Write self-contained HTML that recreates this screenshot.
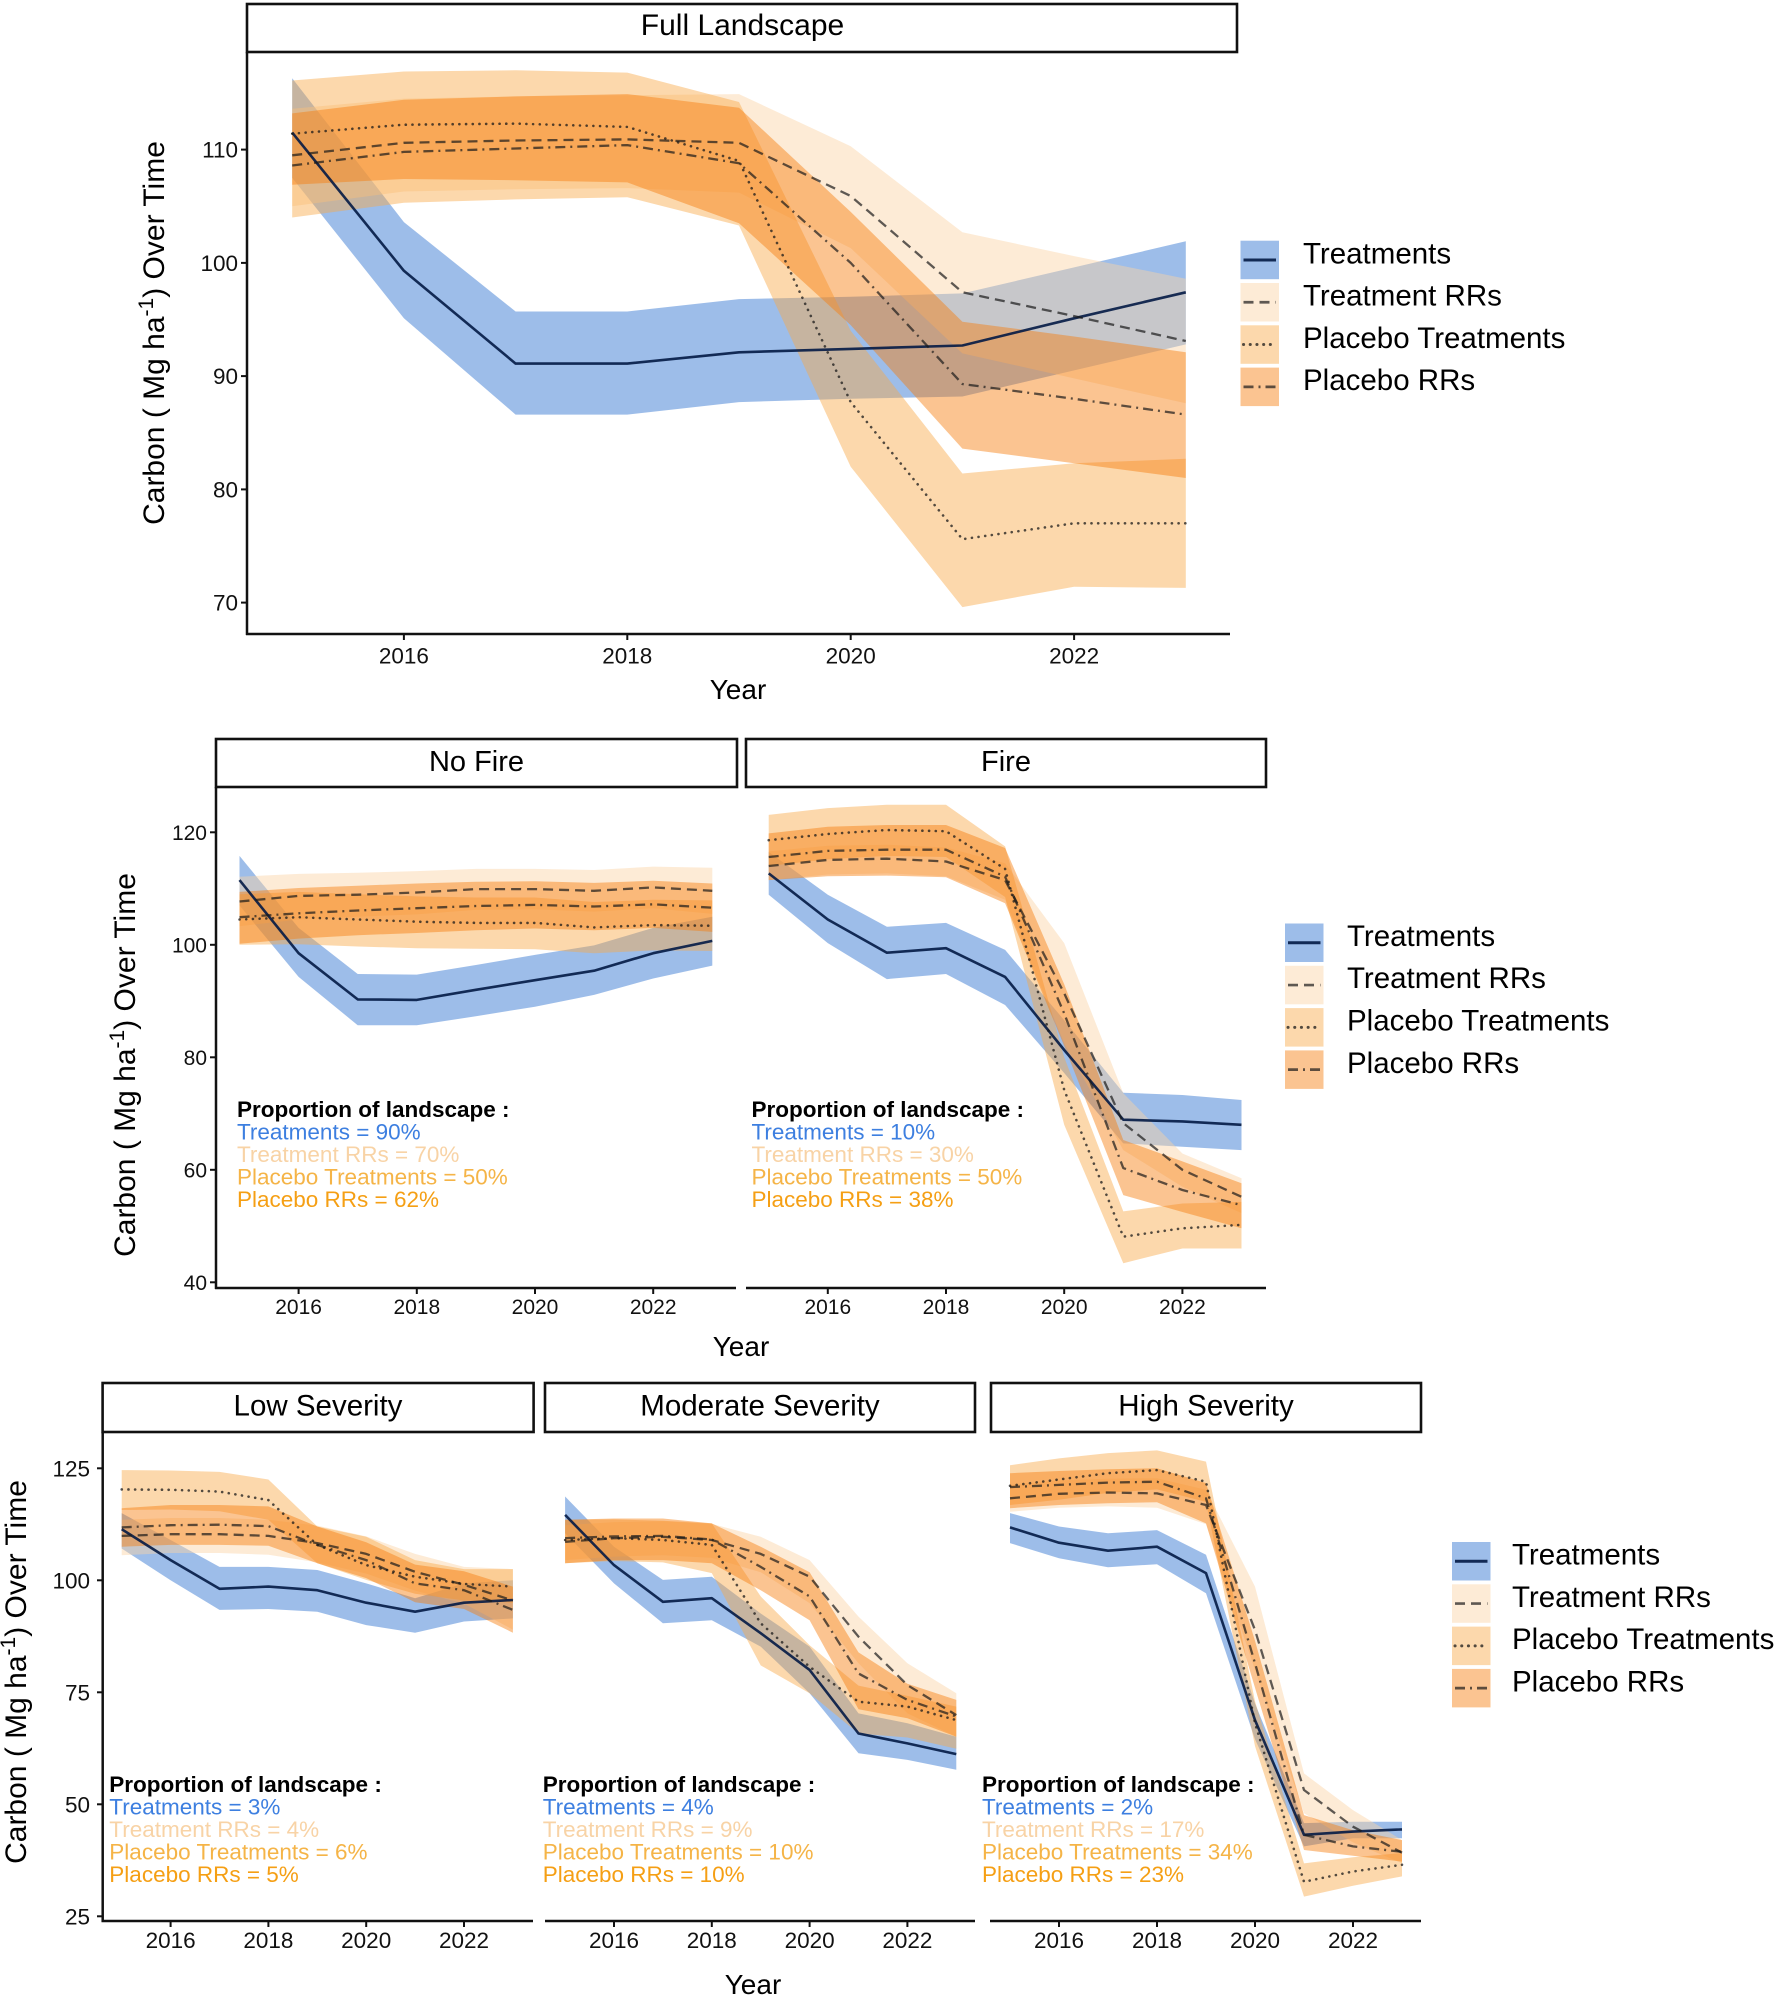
<!DOCTYPE html>
<html>
<head>
<meta charset="utf-8">
<style>
html,body{margin:0;padding:0;background:#fff;}
svg{display:block;font-family:"Liberation Sans",Arial,sans-serif;}
.tk{font-size:22.5px;fill:#111;}
.tk2{font-size:21px;fill:#111;}
.ax{stroke:#111;stroke-width:2.5;fill:none;}
.tm{stroke:#111;stroke-width:2;}
.strip{fill:#fff;stroke:#111;stroke-width:2.6;}
.st{font-size:29.5px;fill:#000;text-anchor:middle;}
.yr{font-size:28px;fill:#000;text-anchor:middle;}
.yt{font-size:30px;fill:#000;text-anchor:middle;}
.lg{font-size:29.5px;fill:#000;}
.an{font-size:22.5px;}
.anh{font-size:22.5px;font-weight:bold;fill:#000;}
.cT{fill:#3d7fe0;}
.cTR{fill:#f8d3a6;}
.cPT{fill:#f5b447;}
.cPR{fill:#f59f14;}
</style>
</head>
<body>
<svg id="s" width="1784" height="2000" viewBox="0 0 1784 2000" xmlns="http://www.w3.org/2000/svg">
<rect x="0" y="0" width="1784" height="2000" fill="#fff"/>
<g id="data"></g>

<!-- ================= PANEL 1 ================= -->
<rect class="strip" x="247" y="4" width="990" height="48"/>
<text class="st" x="742.5" y="35" style="font-size:30px">Full Landscape</text>
<line class="ax" x1="247" y1="52" x2="247" y2="635"/>
<line class="ax" x1="246" y1="634" x2="1230" y2="634"/>
<g class="tm">
<line x1="241" y1="149.6" x2="247" y2="149.6"/>
<line x1="241" y1="262.9" x2="247" y2="262.9"/>
<line x1="241" y1="376.1" x2="247" y2="376.1"/>
<line x1="241" y1="489.4" x2="247" y2="489.4"/>
<line x1="241" y1="602.6" x2="247" y2="602.6"/>
<line x1="403.9" y1="634" x2="403.9" y2="640"/>
<line x1="627.3" y1="634" x2="627.3" y2="640"/>
<line x1="850.7" y1="634" x2="850.7" y2="640"/>
<line x1="1074.1" y1="634" x2="1074.1" y2="640"/>
</g>
<g class="tk" text-anchor="end">
<text x="238" y="157.6">110</text>
<text x="238" y="270.9">100</text>
<text x="238" y="384.1">90</text>
<text x="238" y="497.4">80</text>
<text x="238" y="610.6">70</text>
</g>
<g class="tk" text-anchor="middle">
<text x="403.9" y="663.5">2016</text>
<text x="627.3" y="663.5">2018</text>
<text x="850.7" y="663.5">2020</text>
<text x="1074.1" y="663.5">2022</text>
</g>
<text class="yr" x="738" y="699">Year</text>
<text class="yt" transform="translate(164,333) rotate(-90)">Carbon ( Mg ha<tspan font-size="21" dy="-11">-1</tspan><tspan dy="11">) Over Time</tspan></text>

<!-- legend 1 -->
<g id="leg1"></g>
<text class="lg" x="1303" y="263.3">Treatments</text>
<text class="lg" x="1303" y="305.6">Treatment RRs</text>
<text class="lg" x="1303" y="347.9">Placebo Treatments</text>
<text class="lg" x="1303" y="390.2">Placebo RRs</text>

<!-- ================= PANEL 2 ================= -->
<rect class="strip" x="216" y="739" width="521" height="48"/>
<rect class="strip" x="746" y="739" width="520" height="48"/>
<text class="st" x="476.5" y="771" style="font-size:29px">No Fire</text>
<text class="st" x="1006" y="771" style="font-size:29px">Fire</text>
<line class="ax" x1="216" y1="787" x2="216" y2="1289"/>
<line class="ax" x1="215" y1="1288" x2="736" y2="1288"/>
<line class="ax" x1="746" y1="1288" x2="1266" y2="1288"/>
<g class="tm">
<line x1="210" y1="832.3" x2="216" y2="832.3"/>
<line x1="210" y1="944.8" x2="216" y2="944.8"/>
<line x1="210" y1="1057.3" x2="216" y2="1057.3"/>
<line x1="210" y1="1169.8" x2="216" y2="1169.8"/>
<line x1="210" y1="1282.3" x2="216" y2="1282.3"/>
<line x1="298.6" y1="1288" x2="298.6" y2="1294"/>
<line x1="416.8" y1="1288" x2="416.8" y2="1294"/>
<line x1="535" y1="1288" x2="535" y2="1294"/>
<line x1="653.2" y1="1288" x2="653.2" y2="1294"/>
<line x1="827.8" y1="1288" x2="827.8" y2="1294"/>
<line x1="946" y1="1288" x2="946" y2="1294"/>
<line x1="1064.2" y1="1288" x2="1064.2" y2="1294"/>
<line x1="1182.4" y1="1288" x2="1182.4" y2="1294"/>
</g>
<g class="tk2" text-anchor="end">
<text x="207" y="839.8">120</text>
<text x="207" y="952.3">100</text>
<text x="207" y="1064.8">80</text>
<text x="207" y="1177.3">60</text>
<text x="207" y="1289.8">40</text>
</g>
<g class="tk2" text-anchor="middle">
<text x="298.6" y="1314">2016</text>
<text x="416.8" y="1314">2018</text>
<text x="535" y="1314">2020</text>
<text x="653.2" y="1314">2022</text>
<text x="827.8" y="1314">2016</text>
<text x="946" y="1314">2018</text>
<text x="1064.2" y="1314">2020</text>
<text x="1182.4" y="1314">2022</text>
</g>
<text class="yr" x="741" y="1356">Year</text>
<text class="yt" transform="translate(135,1065) rotate(-90)">Carbon ( Mg ha<tspan font-size="21" dy="-11">-1</tspan><tspan dy="11">) Over Time</tspan></text>

<g id="leg2"></g>
<text class="lg" x="1347" y="945.9">Treatments</text>
<text class="lg" x="1347" y="988.2">Treatment RRs</text>
<text class="lg" x="1347" y="1030.5">Placebo Treatments</text>
<text class="lg" x="1347" y="1072.8">Placebo RRs</text>

<!-- annotations panel 2 -->
<text class="anh" x="237" y="1117">Proportion of landscape :</text>
<text class="an cT" x="237" y="1139.5">Treatments = 90%</text>
<text class="an cTR" x="237" y="1162">Treatment RRs = 70%</text>
<text class="an cPT" x="237" y="1184.5">Placebo Treatments = 50%</text>
<text class="an cPR" x="237" y="1207">Placebo RRs = 62%</text>

<text class="anh" x="751.5" y="1117">Proportion of landscape :</text>
<text class="an cT" x="751.5" y="1139.5">Treatments = 10%</text>
<text class="an cTR" x="751.5" y="1162">Treatment RRs = 30%</text>
<text class="an cPT" x="751.5" y="1184.5">Placebo Treatments = 50%</text>
<text class="an cPR" x="751.5" y="1207">Placebo RRs = 38%</text>

<!-- ================= PANEL 3 ================= -->
<rect class="strip" x="102.6" y="1383" width="431" height="49"/>
<rect class="strip" x="545" y="1383" width="430" height="49"/>
<rect class="strip" x="991" y="1383" width="430" height="49"/>
<text class="st" x="318" y="1415.5">Low Severity</text>
<text class="st" x="760" y="1415.5">Moderate Severity</text>
<text class="st" x="1206" y="1415.5">High Severity</text>
<line class="ax" x1="102.7" y1="1432" x2="102.7" y2="1922"/>
<line class="ax" x1="101.5" y1="1921" x2="533" y2="1921"/>
<line class="ax" x1="545" y1="1921" x2="975" y2="1921"/>
<line class="ax" x1="990" y1="1921" x2="1421" y2="1921"/>
<g class="tm">
<line x1="97" y1="1468.3" x2="103" y2="1468.3"/>
<line x1="97" y1="1580.3" x2="103" y2="1580.3"/>
<line x1="97" y1="1692.3" x2="103" y2="1692.3"/>
<line x1="97" y1="1804.3" x2="103" y2="1804.3"/>
<line x1="97" y1="1916.3" x2="103" y2="1916.3"/>
<line x1="170.6" y1="1921" x2="170.6" y2="1927"/>
<line x1="268.4" y1="1921" x2="268.4" y2="1927"/>
<line x1="366.2" y1="1921" x2="366.2" y2="1927"/>
<line x1="464" y1="1921" x2="464" y2="1927"/>
<line x1="614" y1="1921" x2="614" y2="1927"/>
<line x1="711.8" y1="1921" x2="711.8" y2="1927"/>
<line x1="809.6" y1="1921" x2="809.6" y2="1927"/>
<line x1="907.4" y1="1921" x2="907.4" y2="1927"/>
<line x1="1059" y1="1921" x2="1059" y2="1927"/>
<line x1="1157" y1="1921" x2="1157" y2="1927"/>
<line x1="1255" y1="1921" x2="1255" y2="1927"/>
<line x1="1353" y1="1921" x2="1353" y2="1927"/>
</g>
<g class="tk" text-anchor="end">
<text x="90" y="1476.3">125</text>
<text x="90" y="1588.3">100</text>
<text x="90" y="1700.3">75</text>
<text x="90" y="1812.3">50</text>
<text x="90" y="1924.3">25</text>
</g>
<g class="tk" text-anchor="middle">
<text x="170.6" y="1948">2016</text>
<text x="268.4" y="1948">2018</text>
<text x="366.2" y="1948">2020</text>
<text x="464" y="1948">2022</text>
<text x="614" y="1948">2016</text>
<text x="711.8" y="1948">2018</text>
<text x="809.6" y="1948">2020</text>
<text x="907.4" y="1948">2022</text>
<text x="1059" y="1948">2016</text>
<text x="1157" y="1948">2018</text>
<text x="1255" y="1948">2020</text>
<text x="1353" y="1948">2022</text>
</g>
<text class="yr" x="753" y="1994">Year</text>
<text class="yt" transform="translate(26,1672) rotate(-90)">Carbon ( Mg ha<tspan font-size="21" dy="-11">-1</tspan><tspan dy="11">) Over Time</tspan></text>

<g id="leg3"></g>
<text class="lg" x="1512" y="1564.5">Treatments</text>
<text class="lg" x="1512" y="1606.8">Treatment RRs</text>
<text class="lg" x="1512" y="1649.1">Placebo Treatments</text>
<text class="lg" x="1512" y="1691.4">Placebo RRs</text>

<text class="anh" x="109.3" y="1792">Proportion of landscape :</text>
<text class="an cT" x="109.3" y="1814.5">Treatments = 3%</text>
<text class="an cTR" x="109.3" y="1837">Treatment RRs = 4%</text>
<text class="an cPT" x="109.3" y="1859.5">Placebo Treatments = 6%</text>
<text class="an cPR" x="109.3" y="1882">Placebo RRs = 5%</text>

<text class="anh" x="542.7" y="1792">Proportion of landscape :</text>
<text class="an cT" x="542.7" y="1814.5">Treatments = 4%</text>
<text class="an cTR" x="542.7" y="1837">Treatment RRs = 9%</text>
<text class="an cPT" x="542.7" y="1859.5">Placebo Treatments = 10%</text>
<text class="an cPR" x="542.7" y="1882">Placebo RRs = 10%</text>

<text class="anh" x="982" y="1792">Proportion of landscape :</text>
<text class="an cT" x="982" y="1814.5">Treatments = 2%</text>
<text class="an cTR" x="982" y="1837">Treatment RRs = 17%</text>
<text class="an cPT" x="982" y="1859.5">Placebo Treatments = 34%</text>
<text class="an cPR" x="982" y="1882">Placebo RRs = 23%</text>
</svg>

<script>
(function(){
var NS="http://www.w3.org/2000/svg";
function el(parent,tag,attrs){var e=document.createElementNS(NS,tag);for(var k in attrs)e.setAttribute(k,attrs[k]);parent.appendChild(e);return e;}
var fills=[["#3b7bd3",0.5],["#fbd3a4",0.45],["#f8a847",0.45],["#f67c0b",0.45]];
var strokes=[
 {c:"#031a45",o:0.9,w:2.6,d:"none",cap:"butt"},
 {c:"#1a1a1a",o:0.7,w:2.3,d:"10 6",cap:"butt"},
 {c:"#1a1a1a",o:0.75,w:2.6,d:"0.1 6.6",cap:"round"},
 {c:"#1a1a1a",o:0.7,w:2.3,d:"10 5 2 5",cap:"butt"}
];
var g=document.getElementById("data");
function draw(p){
  var X=function(i){return p.x0+i*p.dx;};
  var Y=function(v){return p.y0+(p.v0-v)*p.k;};
  p.s.forEach(function(s,j){
    var a=s[1].map(function(v,i){return X(i).toFixed(1)+","+Y(v).toFixed(1);});
    var b=s[2].map(function(v,i){return X(i).toFixed(1)+","+Y(v).toFixed(1);}).reverse();
    el(g,"polygon",{points:a.concat(b).join(" "),fill:fills[j][0],"fill-opacity":fills[j][1]});
  });
  p.s.forEach(function(s,j){
    var st=strokes[j];
    el(g,"polyline",{points:s[0].map(function(v,i){return X(i).toFixed(1)+","+Y(v).toFixed(1);}).join(" "),
      fill:"none",stroke:st.c,"stroke-opacity":st.o,"stroke-width":st.w,"stroke-dasharray":st.d,"stroke-linecap":st.cap,"stroke-linejoin":"round"});
  });
}
// Panel 1 Full landscape
draw({x0:292.2,dx:111.7,y0:149.6,v0:110,k:11.325,s:[
 [[111.5,99.3,91.1,91.1,92.1,92.4,92.7,95.1,97.4],[116.3,103.6,95.7,95.7,96.8,97.0,97.3,99.6,101.9],[107.5,95.1,86.6,86.6,87.7,88.0,88.2,90.5,92.8]],
 [[109.5,110.6,110.8,110.9,110.6,105.9,97.4,95.3,93.1],[113.6,114.5,114.7,114.8,114.9,110.3,102.7,100.6,98.6],[105.0,106.3,106.5,106.6,106.2,101.3,92.0,89.8,87.6]],
 [[111.4,112.2,112.3,112.0,109.0,87.7,75.6,77.0,77.0],[116.1,116.9,117.0,116.8,114.2,94.0,81.4,82.3,82.7],[104.0,105.3,105.6,105.8,103.3,82.0,69.6,71.4,71.3]],
 [[108.6,109.8,110.1,110.4,108.8,100.0,89.3,88.0,86.6],[113.2,114.4,114.7,114.9,113.7,104.5,94.8,93.5,92.1],[106.9,107.4,107.3,107.1,103.5,94.5,83.6,82.3,81.0]]
]});
// Panel 2 No Fire
draw({x0:239.5,dx:59.1,y0:832.3,v0:120,k:5.625,s:[
 [[111.5,98.5,90.3,90.2,92.0,93.7,95.4,98.5,100.7],[115.8,103,94.8,94.7,96.4,98.2,99.9,103,105],[107,94.3,85.7,85.7,87.3,89.0,91.1,94.0,96.3]],
 [[107.7,108.7,108.9,109.3,109.9,109.9,109.6,110.2,109.6],[112.1,112.6,112.8,113.1,113.5,113.5,113.3,113.9,113.7],[103.3,104.5,105,105.4,106.2,106.3,105.9,106.5,105.5]],
 [[104.5,104.9,104.5,104.1,103.9,103.9,103.1,103.5,103.4],[109,109.4,109.0,108.6,108.4,108.4,107.6,108.0,107.9],[100.0,100.1,99.7,99.4,99.3,99.2,98.5,99.0,98.9]],
 [[104.9,105.6,106.1,106.5,106.9,107.1,106.8,107.2,106.6],[109.4,110.1,110.5,110.9,111.2,111.3,111.0,111.4,110.9],[100.2,101.1,101.7,102.1,102.6,102.9,102.6,103.0,102.3]]
]});
// Panel 2 Fire
draw({x0:768.7,dx:59.1,y0:832.3,v0:120,k:5.625,s:[
 [[112.7,104.5,98.6,99.4,94.3,81.3,68.9,68.6,68.0],[116.5,108.9,103.2,103.9,99.1,86.6,73.7,73.3,72.4],[108.9,100.3,93.9,94.8,89.3,77.2,64.7,64.1,63.5]],
 [[114.0,115.1,115.3,114.8,111.5,91.4,68.3,60.0,55.2],[116.6,117.6,117.8,117.3,114.5,100.3,73.6,62.9,58.5],[111.5,112.5,112.7,112.2,108,82.5,63.5,57.0,52.3]],
 [[118.6,119.7,120.4,120.2,113.5,74.2,48.1,49.6,50.2],[123.1,124.3,124.9,124.9,117.5,80,52.6,54.0,54.3],[114.0,115.2,115.8,115.6,108.5,68,43.4,46.0,46.0]],
 [[115.6,116.7,116.9,116.9,112.1,87.8,60.3,56.4,53.7],[119.8,121.0,121.3,121.3,117.2,93,65.3,61.5,57.6],[111.5,112.2,112.3,112.0,107.4,82,55.5,52.5,49.6]]
]});
// Panel 3 Low
draw({x0:121.7,dx:48.9,y0:1468.3,v0:125,k:4.48,s:[
 [[111.4,104.5,98.1,98.6,97.8,95.0,93.0,95.0,95.6],[115,109,103,103,102.3,99.3,96,99.3,100],[107.1,100,93.4,93.6,93,90,88.3,90.8,91.5]],
 [[109.9,110.3,110.3,109.9,108.3,105.9,101.9,99.0,95.5],[113.5,113.9,113.9,113.5,112.2,109.8,105.9,103,102.5],[105.6,106.1,106.1,105.7,104,101.5,97.7,94.8,89]],
 [[120.3,120.2,119.8,117.9,107.9,103.4,100.8,99.2,98.6],[124.6,124.5,124.2,122.5,112,109.7,104.5,102.5,102.5],[115.7,115.8,115.4,113.5,103.8,100.1,97,95.5,95]],
 [[111.8,112.3,112.4,112.1,107.9,104.5,99.3,97.8,93.4],[116.1,116.8,116.8,116.5,112,108.5,103.5,102,98.6],[107.5,107.9,107.9,107.7,103.8,100.5,95.1,93.6,88.3]]
]});
// Panel 3 Moderate
draw({x0:565.1,dx:48.9,y0:1468.3,v0:125,k:4.48,s:[
 [[114.6,103.4,95.2,96.0,88.2,80.0,65.8,63.6,61.2],[118.7,107.5,100.1,100.8,92.6,85.2,70.3,68.1,65.1],[110.5,99.3,90.4,91.1,85.2,74.8,61.4,59.9,57.7]],
 [[108.6,109.4,109.7,109.0,105.9,100.8,87.4,76.6,69.9],[112.3,113,113.2,112.6,109.7,104.5,91.9,81.5,74.8],[104.5,105.3,105.6,105,101.8,94.9,81.5,70.3,65.1]],
 [[109.0,109.4,109.0,107.9,90.4,80.7,72.9,71.8,68.8],[113.5,113.6,113.3,112.7,96.4,85.5,76.5,74.2,71.8],[103.8,104.3,104,101.6,81,74.8,65.8,64.9,62.4]],
 [[109.4,109.8,109.9,109.1,103.0,96.4,79.2,73.3,69.6],[113.5,113.8,113.8,112.7,107.5,101.8,83.9,76.9,73.3],[103.8,104.5,104.5,103.8,97.8,91.1,71.2,69.2,65.1]]
]});
// Panel 3 High
draw({x0:1010,dx:49.0,y0:1468.3,v0:125,k:4.48,s:[
 [[111.8,108.4,106.6,107.5,101.6,68.8,43.2,43.9,44.4],[115,112,110.5,111.2,105.7,72.5,45.8,46.1,46.1],[108.3,104.9,102.9,103.6,97.1,64.5,40.6,42.4,42.4]],
 [[118.3,119.3,119.6,119.4,116.8,88.9,53.2,45.0,39.2],[121.3,122.3,122.7,122.8,120.2,98.6,56.9,48.7,42.0],[115.3,116.2,116.5,116.2,112.5,80,48,41.5,36.8]],
 [[121.1,122.5,123.9,124.6,122.0,68.1,32.7,35.0,36.5],[125.7,127.2,128.4,129,126.5,73,36.8,38.2,39.1],[116.8,118,119.5,120.3,117.5,63,29.4,31.8,33.9]],
 [[120.8,121.3,121.8,122.0,118.3,81.5,43.2,40.6,39.4],[123.9,124.4,124.8,125,121.7,86.5,47.6,44.2,42.0],[116.1,116.8,117.2,117.4,112.7,76,39.8,38.5,37.2]]
]});
// Legends
function legend(id,x,tops){
  var p=document.getElementById(id);
  tops.forEach(function(t,j){
    el(p,"rect",{x:x,y:t,width:38.5,height:38.5,fill:"#fff"});
    el(p,"rect",{x:x,y:t,width:38.5,height:38.5,fill:fills[j][0],"fill-opacity":fills[j][1]});
    var st=strokes[j];
    el(p,"line",{x1:x+3,y1:t+19.25,x2:x+35.5,y2:t+19.25,stroke:st.c,"stroke-opacity":st.o,"stroke-width":st.w+0.4,"stroke-dasharray":st.d,"stroke-linecap":st.cap});
  });
}
legend("leg1",1240.5,[240.7,283,325.3,367.6]);
legend("leg2",1285,[923.5,965.8,1008.1,1050.4]);
legend("leg3",1452,[1542,1584.3,1626.6,1668.9]);
})();
</script>
</body>
</html>
